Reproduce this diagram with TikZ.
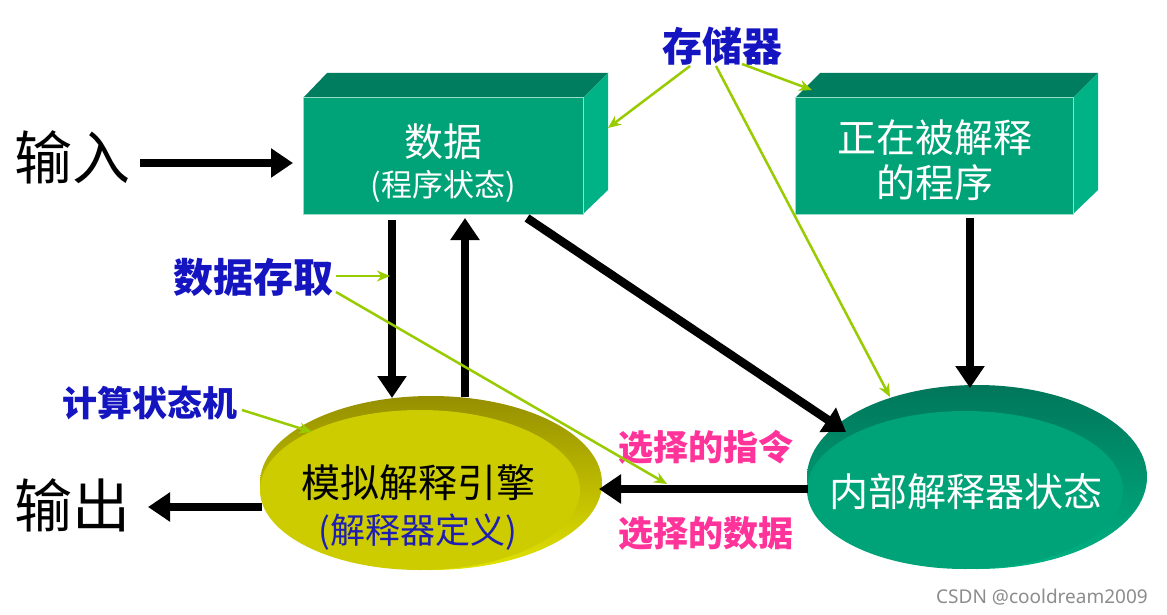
\documentclass[tikz,border=0pt]{standalone}
\usepackage{fontspec}
\setmainfont{Noto Sans CJK SC}
\newfontfamily\latfont{Noto Sans}
\usetikzlibrary{arrows.meta,shapes.geometric}
\definecolor{frontG}{HTML}{00A277}
\definecolor{topG}{HTML}{007D5E}
\definecolor{sideG}{HTML}{00B386}
\definecolor{lblblue}{HTML}{1414C0}
\definecolor{defblue}{HTML}{1E1EB4}
\definecolor{pinkc}{HTML}{FF3399}
\definecolor{limec}{HTML}{99CC00}
\definecolor{yface}{HTML}{CCCC00}
\definecolor{ydark}{HTML}{958F00}
\definecolor{ylight}{HTML}{E2E200}
\definecolor{gdark}{HTML}{00765A}
\definecolor{glight}{HTML}{00B283}
\tikzset{
  fs/.style={font=\fontsize{#1}{#1}\selectfont},
  boxfront/.style={rectangle, fill=frontG, draw=white!60!frontG, line width=1pt, inner sep=0pt},
  wtext/.style={text=white, inner sep=0pt},
  bigarrow/.style={line width=8.5pt, -{Triangle[length=22pt,width=28pt]}},
  greenarrow/.style={draw=limec, line width=2.5pt, -{Stealth[length=13pt,width=11pt]}},
  lbl/.style={text=lblblue, inner sep=1pt, font=\fontsize{#1}{#1}\selectfont\bfseries},
  pinklbl/.style={text=pinkc, inner sep=1pt, font=\fontsize{35}{35}\selectfont\bfseries},
  discouter/.style={ellipse, inner sep=0pt},
}
\begin{document}
\begin{tikzpicture}[x=1pt,y=-1pt]
\useasboundingbox (0,0) rectangle (1167,615);
\fill[white] (0,0) rectangle (1167,615);

% ---- box: data
\fill[topG] (303,98) -- (327,73) -- (608,73) -- (583,98) -- cycle;
\fill[sideG] (583,98) -- (608,73) -- (608,190) -- (583,214) -- cycle;
\node[boxfront, minimum width=280pt, minimum height=116pt] (data) at (443,156) {};
\node[wtext, fs=39] (datat1) at (443,142) {数据};
\node[wtext, fs=31] (datat2) at (443,186) {(程序状态)};

% ---- box: program
\fill[topG] (795,98) -- (820,73) -- (1098,73) -- (1073,98) -- cycle;
\fill[sideG] (1073,98) -- (1098,73) -- (1098,190) -- (1073,214) -- cycle;
\node[boxfront, minimum width=278pt, minimum height=116pt] (prog) at (934,156) {};
\node[wtext, fs=39] (progt1) at (935,138) {正在被解释};
\node[wtext, fs=39] (progt2) at (935,183) {的程序};

% ---- disc: engine
\node[discouter, minimum width=342pt, minimum height=174pt, top color=ydark, bottom color=ylight] (engine) at (431,483) {};
\fill[yface] (420,490) ellipse [x radius=160pt, y radius=80pt];
\node[inner sep=0pt, fs=39] (enginet1) at (418,483) {模拟解释引擎};
\node[inner sep=0pt, text=defblue, fs=35] (enginet2) at (418,532) {(解释器定义)};

% ---- disc: internal state
\node[discouter, minimum width=340pt, minimum height=184pt, top color=gdark, bottom color=glight] (state) at (977,477) {};
\fill[frontG] (965,490) ellipse [x radius=158pt, y radius=79pt];
\node[wtext, fs=39] (statet) at (966,492) {内部解释器状态};

% ---- side texts
\node[inner sep=0pt, fs=58] (in) at (72,157) {输入};
\node[inner sep=0pt, fs=58] (out) at (72,505) {输出};

% ---- labels
\node[lbl=40] (mem) at (722,46) {存储器};
\node[lbl=40] (acc) at (253,277) {数据存取};
\node[lbl=35] (fsm) at (150,403) {计算状态机};
\node[pinklbl] (selins) at (706,447) {选择的指令};
\node[pinklbl] (seldat) at (706,533) {选择的数据};
\node[inner sep=0pt, text=black!45, font=\latfont\fontsize{19}{19}\selectfont] (wm) at (1042,597) {CSDN @cooldream2009};

% ---- coordinates
\coordinate (inTip) at (293,163);
\coordinate (inStart) at (140,163);
\coordinate (outStart) at (262,507);
\coordinate (outTip) at (148,507);
\coordinate (dDownS) at (392,220);
\coordinate (dDownT) at (392,398);
\coordinate (dUpS) at (465,397);
\coordinate (dUpT) at (465,218);
\coordinate (dDiagS) at (527,218);
\coordinate (dDiagT) at (846,432);
\coordinate (pDownS) at (970,218);
\coordinate (pDownT) at (970,388);
\coordinate (sLeftS) at (808,489);
\coordinate (sLeftT) at (599,489);

\coordinate (m1) at (690,66);
\coordinate (m1t) at (608,128);
\coordinate (m2) at (742,64);
\coordinate (m2t) at (812,90);
\coordinate (m3) at (716,66);
\coordinate (m3t) at (890,397);
\coordinate (a1) at (336,276);
\coordinate (a1t) at (390,276);
\coordinate (a2) at (336,292);
\coordinate (a2t) at (667,484);
\coordinate (f1) at (242,410);
\coordinate (f1t) at (312,432);

% ---- black arrows
\draw[bigarrow] (inStart) -- (inTip);
\draw[bigarrow] (outStart) -- (outTip);
\draw[bigarrow] (dDownS) -- (dDownT);
\draw[bigarrow] (dUpS) -- (dUpT);
\draw[bigarrow] (dDiagS) -- (dDiagT);
\draw[bigarrow] (pDownS) -- (pDownT);
\draw[bigarrow] (sLeftS) -- (sLeftT);

% ---- green pointers
\draw[greenarrow] (m1) -- (m1t);
\draw[greenarrow] (m2) -- (m2t);
\draw[greenarrow] (m3) -- (m3t);
\draw[greenarrow] (a1) -- (a1t);
\draw[greenarrow] (a2) -- (a2t);
\draw[greenarrow] (f1) -- (f1t);
\end{tikzpicture}
\end{document}
